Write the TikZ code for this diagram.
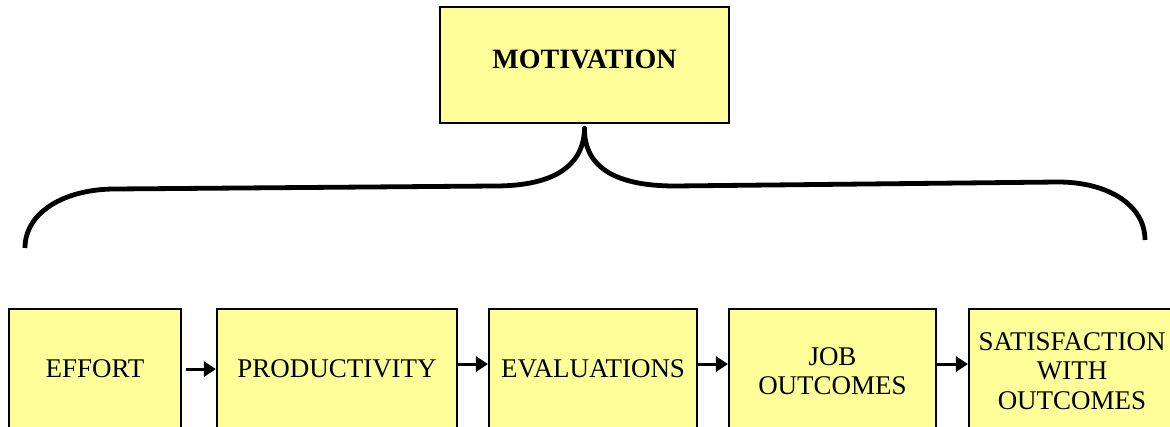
\documentclass[tikz,border=0pt]{standalone}
\usepackage{fontspec}
\setmainfont{Liberation Serif}
\usetikzlibrary{arrows.meta}
\definecolor{boxfill}{HTML}{FFFF99}
\tikzset{
  stagebox/.style={draw=black, line width=2.2pt, fill=boxfill, minimum height=124pt,
    inner sep=0pt, font=\fontsize{27}{29.5}\selectfont},
  flow/.style={line width=3pt, -{Triangle[length=12pt,width=15pt]}},
  brace/.style={line width=4.8pt, line join=round},
}
\begin{document}
\begin{tikzpicture}[x=1pt,y=-1pt]
\useasboundingbox (0,0) rectangle (1170,427);
\clip (0,0) rectangle (1170,427);

% top box
\node[stagebox, minimum width=289pt, minimum height=116pt, text depth=12pt,
      font=\fontsize{28}{30}\selectfont\bfseries] (mot) at (584.5,65) {MOTIVATION};

% chain of stages
\node[stagebox, anchor=north, minimum width=172pt, text depth=6pt] (eff) at (95,308) {EFFORT};
\node[stagebox, anchor=north, minimum width=240pt, text depth=6pt] (prod) at (337,308) {PRODUCTIVITY};
\node[stagebox, anchor=north, minimum width=208pt, text depth=6pt] (eval) at (593,308) {EVALUATIONS};
\node[stagebox, anchor=north, minimum width=207pt, align=center] (job) at (832.5,308) {JOB\\OUTCOMES};
\node[stagebox, anchor=north, minimum width=206pt, align=center] (sat) at (1072,308) {SATISFACTION\\WITH\\OUTCOMES};

% arrows between stages
\draw[flow] ([xshift=4pt,yshift=2pt]eff.east) -- ([yshift=2pt]prod.west);
\draw[flow] ([yshift=7pt]prod.east) -- ([yshift=7pt]eval.west);
\draw[flow] ([yshift=7pt]eval.east) -- ([yshift=7pt]job.west);
\draw[flow] ([yshift=7pt]job.east) -- ([yshift=7pt]sat.west);

% brace under the top box
\coordinate (tip) at ([yshift=-4pt]mot.south);
\draw[brace] (25,248) .. controls (25,212) and (65,189) .. (115,189)
  -- (495,186) .. controls (555,186) and (584,165) .. (tip)
  .. controls (584,165) and (612,186) .. (675,186)
  -- (1058,182) .. controls (1108,182) and (1145,205) .. (1145,240);
\end{tikzpicture}
\end{document}
